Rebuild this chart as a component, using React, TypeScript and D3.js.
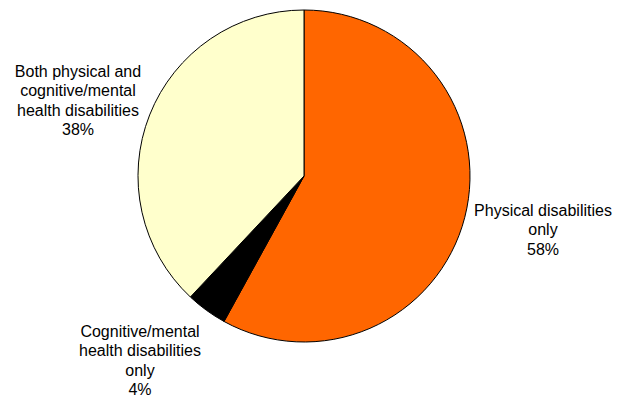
import React from "react";
import * as d3 from "d3";

const categories = [
  "Physical disabilities only",
  "Cognitive/mental health disabilities only",
  "Both physical and cognitive/mental health disabilities",
];
const values = [58, 4, 38];
const colors = ["#FF6600", "#000000", "#FFFFCC"];
const labelLines = [
  ["Physical disabilities", "only", "58%"],
  ["Cognitive/mental", "health disabilities", "only", "4%"],
  ["Both physical and", "cognitive/mental", "health disabilities", "38%"],
];
const labelPos = [
  [543, 210],
  [140, 331],
  [78, 71],
];

export default function App() {
  const W = 629, H = 398;
  const cx = 304, cy = 176, r = 166;
  const pie = d3.pie<number>().sort(null).value((d) => d)(values);
  const arc = d3.arc<d3.PieArcDatum<number>>().innerRadius(0).outerRadius(r);
  return (
    <svg width={W} height={H} style={{ position: "absolute", left: 0, top: 0 }}>
      <rect width={W} height={H} fill="#fff" />
      <g transform={`translate(${cx},${cy})`}>
        {pie.map((p, i) => (
          <path key={i} d={arc(p) || ""} fill={colors[i]} stroke="#000" strokeWidth={1} />
        ))}
      </g>
      {labelLines.map((lines, i) => (
        <text
          key={i}
          x={labelPos[i][0]}
          y={labelPos[i][1]}
          textAnchor="middle"
          fontFamily="Liberation Sans, Arial, sans-serif"
          fontSize={16}
          fill="#000"
        >
          {lines.map((l, j) => (
            <tspan key={j} x={labelPos[i][0]} y={labelPos[i][1] + j * 19.5} dy="0.35em">
              {l}
            </tspan>
          ))}
        </text>
      ))}
    </svg>
  );
}
